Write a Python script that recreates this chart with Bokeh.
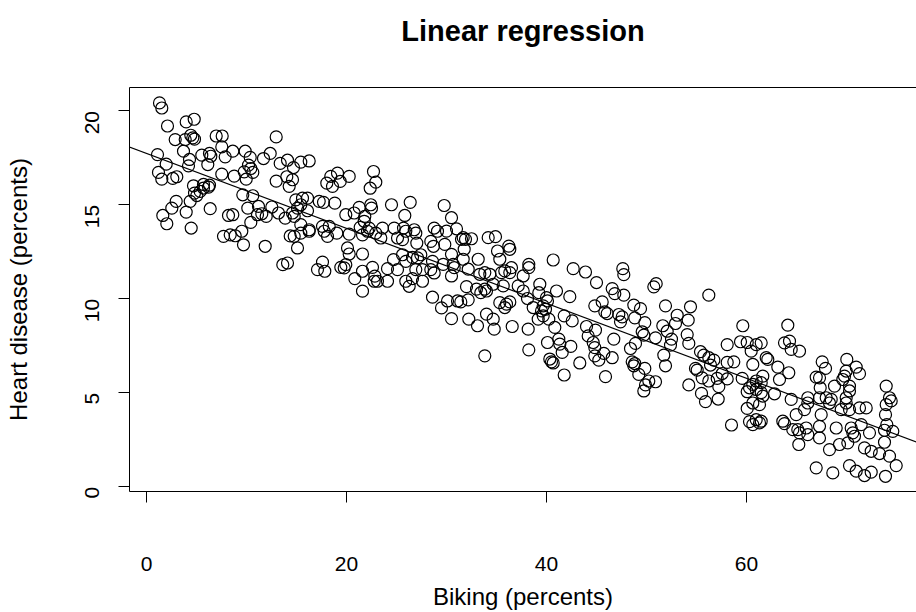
import math
import numpy as np
from bokeh.plotting import figure
from bokeh.models import Range1d, LinearAxis, FixedTicker, Slope, Title
from bokeh.embed import file_html
from bokeh.resources import INLINE

# ---- data ----
biking = [
    1.3, 1.53, 2.1, 3.97, 4.77, 2.87, 3.87, 4.43, 4.8, 4.63, 6.97, 7.57, 12.97, 7.53, 3.7, 1.1, 1.97, 4.3,
    5.53, 6.3, 6.43, 6.13, 4.2, 7.87, 8.63, 9.87, 10.37, 11.7, 12.37, 13.37, 14.1, 10.2, 10.43, 10.63, 9.77,
    1.2, 1.53, 2.63, 3.03, 7.53, 8.77, 9.97, 12.97, 4.7, 5.7, 6.3, 14.03,
    4.8, 5.03, 5.37, 5.7, 6.2, 4.37, 2.97, 2.53, 1.63, 2.03, 3.97, 6.37, 4.47, 8.2, 8.63, 9.63, 10.63, 10.13,
    11.2, 11.53, 11.97, 11.1, 10.43, 12.53, 13.2, 13.87, 7.7, 8.37, 8.87, 9.53, 9.7, 11.87, 13.63, 14.37,
    15.43, 16.27, 14.7, 14.6, 14.27, 18.03, 18.43, 19.1, 18.6, 19.37, 20.27, 22.7, 22.93, 22.37, 14.93, 15.6,
    16.1, 15.43, 15.1, 14.6, 14.77, 16.1, 17.27, 17.7, 18.83, 19.93, 20.77, 21.27, 21.77, 21.83, 22.43, 22.5,
    24.5, 26.37, 25.83, 15.43, 17.6, 18.27, 16.27, 21.37, 22.27, 23.6, 24.77, 25.7, 26.77, 28.77, 29.77,
    14.77, 15.43, 16.27, 15.1, 17.77, 18.1, 19.03, 20.27, 21.6, 22.1, 22.93, 23.43, 25.1, 25.6, 25.93, 26.93,
    27.03, 28.43, 28.7, 29.1, 20.1, 20.27, 21.6, 17.6, 17.1, 17.83, 19.43, 19.77, 19.93, 20.83, 21.6, 22.6,
    22.83, 23.1, 22.77, 24.1, 21.6, 24.1, 24.7, 25.1, 25.6, 25.93, 26.6, 27.1, 27.43, 26.93, 27.6, 28.6,
    28.43, 28.77, 25.93, 26.27, 26.6, 27.6, 28.6, 29.5, 14.1,
    30.5, 31.0, 30.0, 31.67, 31.9, 32.5, 31.5, 29.83, 31.77, 30.5, 31.67, 33.17, 29.67, 30.67, 30.77, 32.17,
    30.5, 34.17, 34.9, 35.1, 36.23, 36.33, 35.33, 33.33, 33.83, 34.33, 35.5, 35.83, 36.33, 36.5, 37.67,
    38.23, 38.23, 40.67, 42.67, 43.9, 32.0, 33.0, 33.83, 34.67, 35.67, 37.17, 39.33, 41.0, 45.0,
    33.43, 34.0, 37.67, 39.23, 42.33, 30.1, 31.1, 31.43, 32.17, 30.5, 32.23, 33.1, 34.0, 34.67, 34.77, 35.33,
    36.0, 36.33, 35.83, 36.57, 38.1, 38.67, 38.17, 39.17, 39.5, 39.67, 39.9, 40.1, 40.23, 40.0, 39.67, 40.83,
    41.77, 42.57, 40.1, 41.23, 41.33, 42.43, 41.57, 38.23, 33.83, 40.33, 40.5, 40.67, 43.33, 41.77, 44.0,
    44.17, 44.67, 44.83, 44.83, 44.83,
    47.63, 47.73, 46.57, 46.83, 47.73, 50.73, 50.97, 56.23, 45.57, 45.83, 46.07, 47.23, 47.57, 47.4, 48.73,
    49.4, 48.83, 49.83, 51.9, 53.07, 54.4, 54.17, 52.9, 51.63, 52.07, 49.57, 49.73, 50.9, 44.9, 46.73, 52.5,
    54.07, 59.63, 48.9, 52.4, 54.23, 58.07, 59.4, 60.07,
    45.73, 46.57, 45.23, 48.4, 48.57, 48.83, 48.73, 49.83, 49.23, 45.9, 50.23, 50.9, 49.9, 49.73, 51.73,
    51.9, 54.9, 55.07, 55.4, 55.73, 56.23, 56.73, 56.4, 54.23, 55.57, 56.23, 55.5, 55.9, 57.17, 57.23, 57.07,
    57.57, 58.07, 58.07, 58.73, 59.57, 60.07, 60.07, 58.5, 60.3,
    64.13, 63.8, 64.3, 64.47, 65.3, 61.47, 60.97, 60.47, 61.97, 62.13, 60.63, 63.13, 64.23, 63.3, 61.63,
    60.97, 61.47, 60.63, 60.3, 60.97, 61.47, 61.63, 62.8, 67.57, 67.9, 66.97, 67.3, 67.37, 68.8, 70.03,
    70.97, 71.3, 69.97, 69.8, 69.63, 70.3, 70.3, 73.97, 74.3, 74.47, 66.13, 67.3, 67.97, 68.47, 69.97, 64.47,
    61.3, 60.63, 60.97, 61.3, 60.63, 61.47, 66.13, 68.3, 69.97, 71.3, 71.97, 73.97, 65.8, 64.97, 67.47,
    69.47, 70.3, 63.63, 63.8, 64.63, 65.3, 65.13, 65.97, 66.13, 67.3, 67.3, 68.97, 70.47, 70.63, 70.8, 71.47,
    72.3, 73.9, 74.03, 73.8, 74.63, 73.8, 65.23, 68.3, 69.3, 70.13, 71.8, 72.47, 73.3, 74.3, 74.97, 66.97,
    68.63, 70.3, 70.97, 71.8, 72.47, 73.9,
]
heart_disease = [
    20.43, 20.16, 19.2, 19.42, 19.56, 18.48, 18.48, 18.71, 18.5, 18.57, 18.67, 18.67, 18.62, 18.09, 17.86,
    17.68, 17.17, 17.42, 17.65, 17.74, 17.59, 17.15, 17.08, 17.56, 17.86, 17.86, 17.53, 17.47, 17.74, 17.21,
    17.38, 17.12, 16.94, 16.73, 16.76, 16.73, 16.37, 16.41, 16.5, 16.64, 16.53, 16.37, 16.27, 16.02, 16.09,
    16.05, 16.5,
    15.63, 15.5, 15.72, 15.9, 15.95, 15.19, 15.19, 14.83, 14.44, 14.0, 14.62, 14.8, 13.77, 14.44, 14.48,
    15.54, 15.49, 14.83, 14.92, 14.53, 14.39, 14.48, 14.07, 14.89, 14.57, 14.3, 13.33, 13.41, 13.36, 13.6,
    12.88, 12.8, 11.82, 13.35,
    17.28, 17.34, 16.99, 16.34, 15.99, 16.16, 16.52, 16.69, 15.99, 16.25, 16.52, 16.78, 16.21, 15.89, 15.27,
    15.36, 15.36, 15.01, 14.83, 14.57, 14.39, 14.69, 15.19, 15.14, 15.1, 14.48, 14.57, 14.87, 14.13, 14.39,
    15.01, 14.83, 15.01, 15.14, 14.44, 13.95, 13.86, 13.86, 13.68, 13.81, 13.77, 13.77, 13.77, 13.77, 13.68,
    13.77, 14.97,
    13.33, 13.5, 13.6, 12.71, 13.6, 13.33, 13.5, 13.45, 13.41, 13.6, 13.5, 13.24, 13.24, 13.15, 13.6, 13.5,
    12.97, 13.06, 12.8, 13.6, 12.71, 12.39, 12.39, 11.96, 11.56, 11.47, 11.68, 11.65, 11.82, 11.08, 11.47,
    11.68, 11.21, 10.94, 10.94, 10.94, 10.41, 11.61, 12.09, 11.56, 12.35, 12.0, 12.21, 12.18, 12.35, 11.56,
    11.56, 12.0, 11.56, 11.38, 10.94, 10.67, 11.08, 10.94, 10.09, 9.52, 11.91,
    14.32, 13.73, 13.61, 13.26, 13.17, 13.2, 13.17, 12.9, 12.64, 12.37, 12.11, 12.11, 11.84, 11.84, 11.66,
    11.58, 11.22, 13.26, 13.31, 12.55, 12.81, 12.64, 12.11, 11.31, 11.4, 11.31, 11.4, 11.49, 11.4, 11.66,
    11.22, 11.84, 11.66, 12.07, 11.61, 11.43, 10.65, 10.52, 10.52, 10.78, 10.69, 10.69, 10.78, 10.42, 10.87,
    10.33, 10.42, 10.42, 10.33, 10.12, 9.89, 9.89, 9.84, 9.95, 8.95, 8.92, 8.57, 9.19, 8.92, 8.39, 9.8,
    9.72, 9.84, 9.54, 8.53, 10.02, 9.54, 8.39, 8.92, 9.36, 9.63, 9.45, 9.89, 8.92, 10.07, 9.1, 8.48,
    9.1, 8.83, 7.68, 7.86, 7.59, 7.47, 7.15, 7.29, 6.97, 6.8, 6.65, 6.59, 6.59, 5.95, 8.53,
    8.03, 7.68, 7.41, 9.63, 6.97,
    11.61, 11.29, 10.55, 10.28, 10.2, 10.64, 10.81, 10.2, 9.84, 9.31, 9.22, 9.17, 9.04, 8.78, 9.67,
    9.48, 8.99, 8.74, 9.63, 9.13, 9.58, 8.87, 8.69, 8.57, 8.28, 8.25, 8.07, 7.93, 8.34, 7.86, 7.86,
    8.1, 8.57, 7.63, 7.54, 7.63, 7.57, 7.72, 7.68,
    7.1, 6.87, 6.74, 7.36, 6.65, 6.56, 6.44, 6.3, 5.98, 5.86, 5.63, 5.59, 5.42, 5.1, 7.01,
    6.44, 6.3, 6.21, 7.19, 7.01, 6.87, 6.74, 6.48, 5.42, 5.8, 5.63, 4.97, 4.53, 4.67, 5.33, 5.77,
    6.03, 5.74, 6.62, 6.65, 5.77, 5.06, 4.17, 3.29, 3.47,
    8.6, 7.66, 7.75, 7.31, 7.22, 7.66, 7.57, 7.22, 6.87, 6.78, 6.51, 6.37, 6.07, 5.71, 5.89,
    5.63, 5.54, 5.45, 5.27, 5.18, 5.01, 4.83, 4.95, 6.65, 6.3, 5.84, 5.8, 5.27, 5.36, 6.78,
    6.37, 6.02, 6.16, 5.89, 5.71, 5.36, 5.1, 5.36, 4.74, 4.57, 4.74, 4.74, 4.74, 4.65, 4.74, 4.65,
    4.37, 4.46, 3.57, 3.4, 3.31, 3.49, 4.46, 4.46, 4.46, 4.2, 4.2, 4.37, 4.11, 3.84, 3.84,
    4.11, 4.11, 3.49, 3.36, 3.04, 2.87, 3.04, 3.13, 2.78, 3.22, 2.6, 3.13, 3.13, 2.87, 2.69, 3.31,
    2.87, 3.84, 3.31, 3.01, 2.95, 2.37, 2.25, 1.98, 2.25, 2.34, 2.07, 1.89, 1.77, 1.63, 1.13, 1.01,
    0.74, 1.13, 0.83, 0.6, 0.78, 0.56,
]
x_ticks = [0, 20, 40, 60]
y_ticks = [0, 5, 10, 15, 20]
title_text = "Linear regression"
x_title = "Biking (percents)"
y_title = "Heart disease (percents)"

n = min(len(biking), len(heart_disease))
bx = np.array(biking[:n])
hy = np.array(heart_disease[:n])
slope, intercept = np.polyfit(bx, hy, 1)

FONT = "Liberation Sans"
TICK_FS = "21px"
LAB_FS = "24px"

p = figure(width=916, height=612, output_backend="svg", toolbar_location=None,
           x_range=Range1d(-1.7, 77.0), y_range=Range1d(-0.25, 21.25),
           min_border_left=129, min_border_right=0, min_border_top=87, min_border_bottom=120,
           title=None, background_fill_color="white", border_fill_color="white")
p.outline_line_color = None
p.xgrid.visible = False
p.ygrid.visible = False

for ax in (p.xaxis[0], p.yaxis[0]):
    ax.axis_line_color = "black"
    ax.axis_line_width = 1
    ax.major_tick_line_color = "black"
    ax.major_tick_line_width = 1
    ax.major_tick_out = 11
    ax.major_tick_in = 0
    ax.minor_tick_out = 0
    ax.minor_tick_in = 0
    ax.major_label_text_font = FONT
    ax.major_label_text_font_size = TICK_FS
    ax.major_label_text_color = "black"
    ax.axis_label_text_font = FONT
    ax.axis_label_text_font_size = LAB_FS
    ax.axis_label_text_font_style = "normal"
    ax.axis_label_text_color = "black"

p.xaxis[0].ticker = FixedTicker(ticks=x_ticks)
p.yaxis[0].ticker = FixedTicker(ticks=y_ticks)
p.xaxis[0].axis_label = x_title
p.yaxis[0].axis_label = y_title
p.xaxis[0].major_label_standoff = 54
p.xaxis[0].axis_label_standoff = 9
p.yaxis[0].major_label_orientation = math.pi / 2
p.yaxis[0].major_label_standoff = 26
p.yaxis[0].axis_label_standoff = 44

# top border of the box
top = LinearAxis(ticker=FixedTicker(ticks=[]), axis_line_color="black", major_tick_out=0,
                 major_tick_in=0, minor_tick_out=0, minor_tick_in=0,
                 major_label_text_font_size="0px", major_label_standoff=0)
p.add_layout(top, "above")
# empty spacer between box and title
p.add_layout(Title(text=" ", text_font_size="1px", standoff=25), "above")
p.add_layout(Title(text=title_text, align="center", text_font=FONT, text_font_size="29px",
                   text_font_style="bold", text_color="black", standoff=25), "above")

p.scatter(bx, hy, marker="circle", size=12, fill_color=None, line_color="black", line_width=1.2)
p.add_layout(Slope(gradient=slope, y_intercept=intercept, line_color="black", line_width=1.2))

open("out.html", "w").write(file_html(p, INLINE))
